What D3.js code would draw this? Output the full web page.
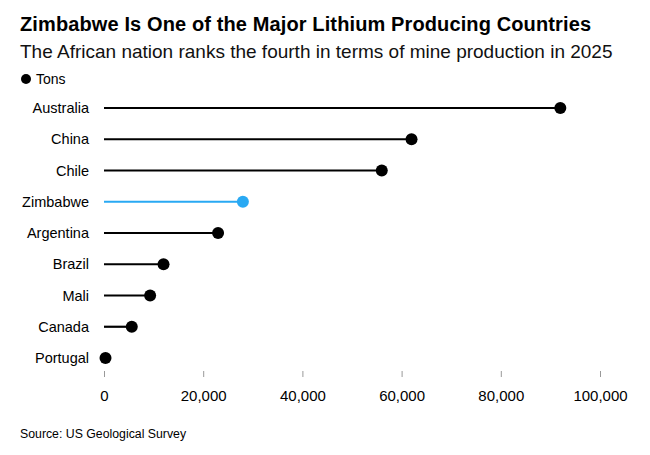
<!DOCTYPE html>
<html><head><meta charset="utf-8">
<script src="https://cdn.jsdelivr.net/npm/d3@7"></script>
<style>body{margin:0;background:#fff;} svg{display:block;font-family:"Liberation Sans",Arial,sans-serif;}</style>
</head><body>
<script>
const countries = ["Australia","China","Chile","Zimbabwe","Argentina","Brazil","Mali","Canada","Portugal"];
const tons = [92000,62000,56000,28000,23000,12000,9300,5600,300];
const highlight = ["Zimbabwe"];
const xTicks = [0,20000,40000,60000,80000,100000];

const W=650,H=455;
const svg=d3.select("body").append("svg").attr("width",W).attr("height",H);
const x=d3.scaleLinear().domain([0,100000]).range([104,600]);
const y=d3.scalePoint().domain(countries).range([108,358]);

svg.append("text").attr("x",20).attr("y",31).attr("font-size",20).attr("font-weight","bold").attr("fill","#000").attr("textLength",571).text("Zimbabwe Is One of the Major Lithium Producing Countries");
svg.append("text").attr("x",20).attr("y",58).attr("font-size",19).attr("fill","#111").text("The African nation ranks the fourth in terms of mine production in 2025");
svg.append("circle").attr("cx",26).attr("cy",79).attr("r",5).attr("fill","#000");
svg.append("text").attr("x",36).attr("y",84).attr("font-size",14).text("Tons");

const data=countries.map((c,i)=>({c,v:tons[i]}));
const col=d=>highlight.includes(d.c)?"#29a9f3":"#000";
const g=svg.append("g");
g.selectAll("line.stem").data(data).join("line").attr("class","stem")
 .attr("x1",x(0)).attr("x2",d=>x(d.v)).attr("y1",d=>y(d.c)).attr("y2",d=>y(d.c))
 .attr("stroke",col).attr("stroke-width",2.2);
g.selectAll("circle.dot").data(data).join("circle").attr("class","dot")
 .attr("cx",d=>x(d.v)).attr("cy",d=>y(d.c)).attr("r",6).attr("fill",col);
g.selectAll("text.lab").data(data).join("text").attr("class","lab")
 .attr("x",89).attr("y",d=>y(d.c)+5).attr("text-anchor","end").attr("font-size",14.5).attr("fill","#000").text(d=>d.c);

const ax=svg.append("g").attr("transform","translate(0,371)")
 .call(d3.axisBottom(x).tickValues(xTicks).tickSize(6).tickPadding(13).tickFormat(d3.format(",")));
ax.select(".domain").remove();
ax.selectAll(".tick line").attr("stroke","#999").attr("stroke-width",1);
ax.selectAll(".tick text").attr("font-size",15).attr("fill","#000").attr("font-family","\"Liberation Sans\",Arial,sans-serif");

svg.append("text").attr("x",20).attr("y",438).attr("font-size",12.3).attr("fill","#000").text("Source: US Geological Survey");
</script>
</body></html>
